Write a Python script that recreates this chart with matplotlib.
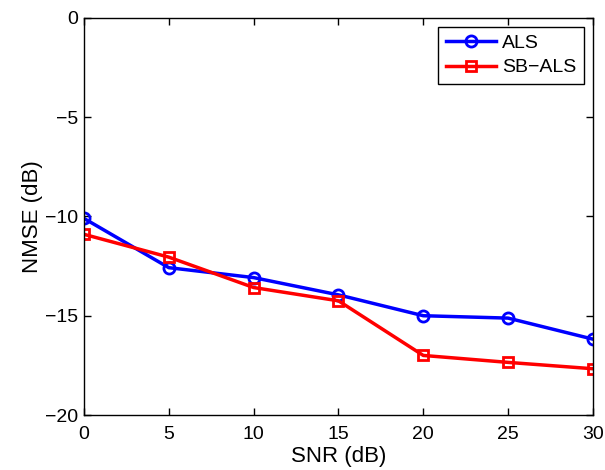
import matplotlib
matplotlib.use('Agg')
import matplotlib.pyplot as plt

# Data
snr = [0, 5, 10, 15, 20, 25, 30]
nmse_als = [-10.1, -12.58, -13.08, -13.95, -15.0, -15.12, -16.18]
nmse_sbals = [-10.9, -12.05, -13.58, -14.25, -17.0, -17.35, -17.67]

plt.rcParams['font.family'] = ['Liberation Sans', 'DejaVu Sans']

fig = plt.figure(figsize=(6.05, 4.7), dpi=100)
ax = fig.add_axes([0.1388, 0.117, 0.8413, 0.845])

ax.plot(snr, nmse_als, color='blue', linewidth=2.5, marker='o', markersize=8,
        markerfacecolor='none', markeredgewidth=2, label='ALS')
ax.plot(snr, nmse_sbals, color='red', linewidth=2.5, marker='s', markersize=7,
        markerfacecolor='none', markeredgewidth=2, label='SB\u2212ALS')

ax.set_xlim(0, 30)
ax.set_ylim(-20, 0)
ax.set_xticks(range(0, 31, 5))
ax.set_yticks(range(-20, 1, 5))
ax.set_yticklabels(['\u221220', '\u221215', '\u221210', '\u22125', '0'])
ax.tick_params(direction='in', top=True, right=True, labelsize=14, length=5, width=1)
ax.tick_params(axis='x', pad=8)
ax.tick_params(axis='y', pad=4)
for s in ax.spines.values():
    s.set_linewidth(1)

ax.set_xlabel('SNR (dB)', fontsize=16, labelpad=2)
ax.set_ylabel('NMSE (dB)', fontsize=16, labelpad=2)

leg = ax.legend(loc='upper right', fontsize=14, fancybox=False, edgecolor='black',
                framealpha=1, handlelength=2.6, borderaxespad=0.45,
                handletextpad=0.3, borderpad=0.4, labelspacing=0.35)
leg.get_frame().set_linewidth(1)

fig.savefig('out.png', dpi=100)
